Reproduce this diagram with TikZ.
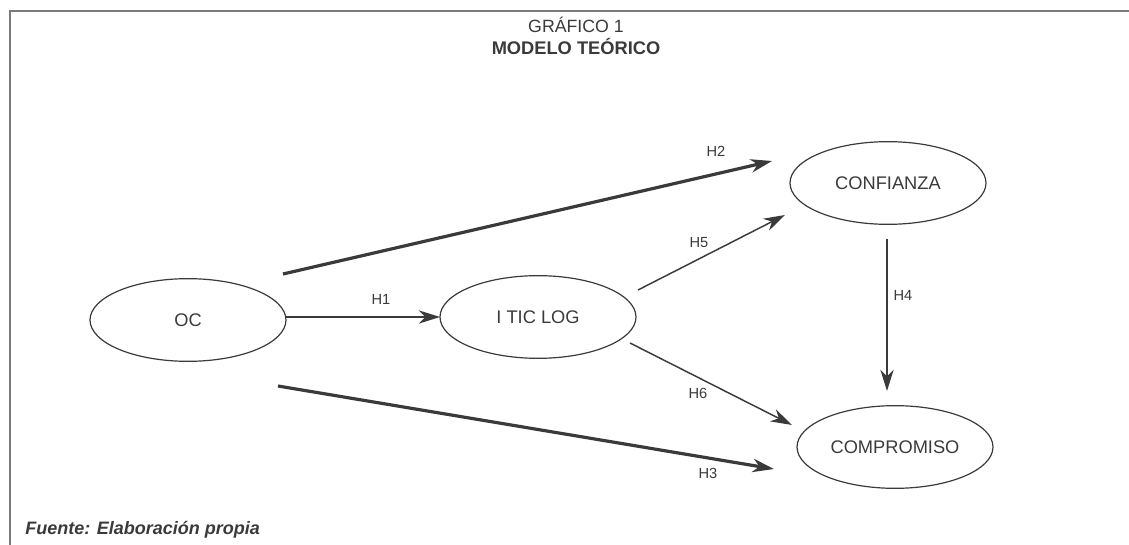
\documentclass[tikz,border=0pt]{standalone}
\usepackage{fontspec}
\setmainfont{Liberation Sans}
\usetikzlibrary{shapes.geometric,arrows.meta}
\definecolor{ink}{HTML}{3A3A3A}
\definecolor{framegray}{HTML}{7A7A7A}
\tikzset{
  var/.style={draw=ink, line width=0.9pt, ellipse, minimum width=147pt, minimum height=62pt, inner sep=0pt, font=\fontsize{13.7pt}{16pt}\selectfont, text=ink},
  lbl/.style={font=\fontsize{11pt}{13pt}\selectfont, text=ink, inner sep=0pt},
  tip/.style={-{Stealth[length=16pt, width=10pt, inset=5pt]}},
  thin arrow/.style={draw=ink, line width=1.1pt, tip},
  thick arrow/.style={draw=ink, line width=2.4pt, tip},
  titletext/.style={font=\fontsize{13.3pt}{16pt}\selectfont, text=ink, inner sep=0pt, anchor=base},
}
\begin{document}
\begin{tikzpicture}[x=0.75pt, y=-0.75pt]
\useasboundingbox (0,0) rectangle (1129,545);
% frame
\draw[framegray, line width=1.5pt] (9.5,545) -- (9.5,11.5) -- (1129,11.5);
% title
\node[titletext] (t1) at (576,33) {GRÁFICO 1};
\node[titletext, font=\bfseries\fontsize{13.7pt}{16pt}\selectfont] (t2) at (576,55) {MODELO TEÓRICO};
% variables
\node[var] (oc) at (188,320) {OC};
\node[var] (itic) at (538,317) {I TIC LOG};
\node[var] (conf) at (888,183) {CONFIANZA};
\node[var] (comp) at (895,447) {COMPROMISO};
% connector end points
\coordinate (h1s) at (286,317);  \coordinate (h1e) at (440,317);
\coordinate (h2s) at (283,274);  \coordinate (h2e) at (772,161);
\coordinate (h3s) at (278,386);  \coordinate (h3e) at (774,469);
\coordinate (h4s) at (887,239);  \coordinate (h4e) at (887,391);
\coordinate (h5s) at (638,290);  \coordinate (h5e) at (785,215);
\coordinate (h6s) at (630,343);  \coordinate (h6e) at (792,425);
% connectors
\draw[thin arrow] (h1s) -- (h1e);
\draw[thick arrow] (h2s) -- (h2e);
\draw[thick arrow] (h3s) -- (h3e);
\draw[thin arrow] (h4s) -- (h4e);
\draw[thin arrow] (h5s) -- (h5e);
\draw[thin arrow] (h6s) -- (h6e);
% labels
\node[lbl] (l1) at (381,299) {H1};
\node[lbl] (l2) at (716,151) {H2};
\node[lbl] (l3) at (708,473) {H3};
\node[lbl] (l4) at (903,295) {H4};
\node[lbl] (l5) at (699,243) {H5};
\node[lbl] (l6) at (698,393) {H6};
% source
\node[anchor=base west, inner sep=0pt, font=\bfseries\itshape\fontsize{13.5pt}{16pt}\selectfont, text=ink] (src) at (25,534) {Fuente: Elaboración propia};
\end{tikzpicture}
\end{document}
